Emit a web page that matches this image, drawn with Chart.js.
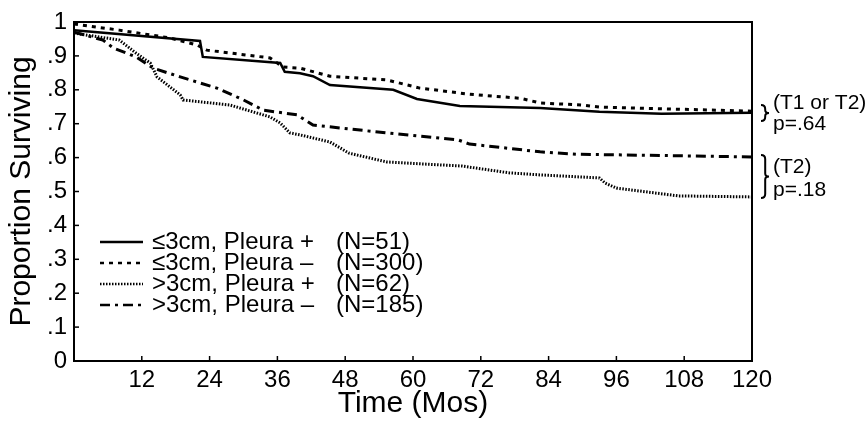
<html>
<head>
<meta charset="UTF-8" />
<script src="https://cdn.jsdelivr.net/npm/chart.js@4.4.0/dist/chart.umd.min.js"></script>
<style>
  body { margin: 0; background: #fff; }
  #wrap { position: relative; width: 865px; height: 425px; }
</style>
</head>
<body>
<div id="wrap"><canvas id="myChart" width="865" height="425"></canvas></div>
<script>
// data
const seriesLabels = ["\u22643cm, Pleura +", "\u22643cm, Pleura \u2013", ">3cm, Pleura +", ">3cm, Pleura \u2013"];
const seriesN = ["(N=51)", "(N=300)", "(N=62)", "(N=185)"];

const monthsSmallPos = [0, 22.3, 22.8, 36.5, 37.3, 40, 42.3, 45.3, 56.5, 60.7, 68.3, 82.5, 93, 104, 120];
const survSmallPos   = [0.976, 0.944, 0.897, 0.879, 0.853, 0.849, 0.84, 0.814, 0.80, 0.773, 0.752, 0.746, 0.735, 0.729, 0.732];

const monthsSmallNeg = [0, 8, 17, 21.8, 23.5, 34.7, 37, 40, 45.3, 55.4, 61.2, 70, 79, 82.5, 90, 93, 120];
const survSmallNeg   = [0.994, 0.976, 0.953, 0.932, 0.917, 0.894, 0.867, 0.864, 0.84, 0.829, 0.805, 0.787, 0.775, 0.761, 0.755, 0.749, 0.737];

const monthsLargePos = [0, 8, 11, 13.5, 14.7, 18.8, 19.3, 27.6, 34.7, 36.5, 38.2, 40, 45.3, 48.7, 55.4, 68.7, 77, 82.5, 93, 94, 96, 107, 120];
const survLargePos   = [0.967, 0.947, 0.908, 0.879, 0.838, 0.785, 0.77, 0.755, 0.72, 0.702, 0.673, 0.667, 0.646, 0.613, 0.587, 0.575, 0.555, 0.549, 0.54, 0.525, 0.51, 0.487, 0.484];

const monthsLargeNeg = [0, 5.1, 7, 11, 14, 18.8, 25.3, 30, 33.5, 39.5, 42.3, 55.8, 68, 70, 82.5, 89, 120];
const survLargeNeg   = [0.97, 0.947, 0.923, 0.897, 0.864, 0.838, 0.805, 0.77, 0.74, 0.726, 0.696, 0.672, 0.652, 0.64, 0.617, 0.61, 0.602];

const xTicks = [12, 24, 36, 48, 60, 72, 84, 96, 108, 120];
const yTicks = [0, 0.1, 0.2, 0.3, 0.4, 0.5, 0.6, 0.7, 0.8, 0.9, 1];

const FONT = "'Liberation Sans', Arial, Helvetica, sans-serif";
const styles = [
  { dash: [], width: 2.5 },
  { dash: [4, 5], width: 3 },
  { dash: [1.5, 1.5], width: 3 },
  { dash: [10, 5, 3, 5], width: 3 }
];

function pts(xs, ys) { return xs.map((x, i) => ({ x: x, y: ys[i] })); }
const allMonths = [monthsSmallPos, monthsSmallNeg, monthsLargePos, monthsLargeNeg];
const allSurv = [survSmallPos, survSmallNeg, survLargePos, survLargeNeg];

const extras = {
  id: 'extras',
  afterDatasetsDraw(chart) {
    const ctx = chart.ctx, a = chart.chartArea;
    const xs = chart.scales.x, ys = chart.scales.y;
    ctx.save();
    ctx.strokeStyle = '#000';
    ctx.lineWidth = 2;
    ctx.setLineDash([]);
    ctx.strokeRect(a.left, a.top, a.right - a.left, a.bottom - a.top);
    // inside tick marks
    ctx.lineWidth = 1.5;
    xTicks.forEach(t => {
      const px = xs.getPixelForValue(t);
      ctx.beginPath(); ctx.moveTo(px, a.bottom); ctx.lineTo(px, a.bottom - 5); ctx.stroke();
    });
    yTicks.forEach(t => {
      const py = ys.getPixelForValue(t);
      ctx.beginPath(); ctx.moveTo(a.left, py); ctx.lineTo(a.left + 5, py); ctx.stroke();
    });
    // legend
    ctx.font = '24px ' + FONT;
    ctx.fillStyle = '#000';
    ctx.textBaseline = 'middle';
    ctx.textAlign = 'left';
    seriesLabels.forEach((lab, i) => {
      const y = 242 + i * 21;
      ctx.lineWidth = 2.5;
      ctx.setLineDash(styles[i].dash);
      ctx.beginPath(); ctx.moveTo(100, y); ctx.lineTo(143, y); ctx.stroke();
      ctx.setLineDash([]);
      ctx.fillText(lab, 152, y);
      ctx.fillText(seriesN[i], 336, y);
    });
    // p-value annotations
    const r = a.right;
    ctx.font = '21px ' + FONT;
    ctx.fillText('(T1 or T2)', r + 21, 103);
    ctx.fillText('p=.64', r + 21, 124);
    ctx.fillText('(T2)', r + 21, 167);
    ctx.fillText('p=.18', r + 21, 190);
    ctx.lineWidth = 2;
    function brace(x, y1, y2) {
      const m = (y1 + y2) / 2, w = 6;
      ctx.beginPath();
      ctx.moveTo(x, y1);
      ctx.quadraticCurveTo(x + w * 0.7, y1, x + w * 0.7, y1 + 4);
      ctx.lineTo(x + w * 0.7, m - 3);
      ctx.quadraticCurveTo(x + w * 0.7, m, x + w + 2, m);
      ctx.quadraticCurveTo(x + w * 0.7, m, x + w * 0.7, m + 3);
      ctx.lineTo(x + w * 0.7, y2 - 4);
      ctx.quadraticCurveTo(x + w * 0.7, y2, x, y2);
      ctx.stroke();
    }
    brace(r + 9, 105, 121);
    brace(r + 9, 155, 198);
    ctx.restore();
  }
};

new Chart(document.getElementById('myChart').getContext('2d'), {
  type: 'line',
  data: {
    datasets: seriesLabels.map((lab, i) => ({
      label: lab,
      data: pts(allMonths[i], allSurv[i]),
      borderColor: '#000',
      borderWidth: styles[i].width,
      borderDash: styles[i].dash,
      pointRadius: 0,
      tension: 0,
      fill: false
    }))
  },
  options: {
    responsive: false,
    animation: false,
    layout: { padding: { top: 22, right: 113, left: 0, bottom: 0 } },
    plugins: { legend: { display: false }, tooltip: { enabled: false } },
    scales: {
      x: {
        type: 'linear', min: 0, max: 120,
        afterBuildTicks: s => { s.ticks = xTicks.map(v => ({ value: v })); },
        afterFit: s => { s.height = 64; },
        grid: { display: false, drawTicks: false },
        border: { display: true, color: '#000', width: 2 },
        ticks: { color: '#000', padding: 5, maxRotation: 0, autoSkip: false, font: { family: FONT, size: 24 } },
        title: { display: true, text: 'Time (Mos)', color: '#000', padding: { top: 0, bottom: 3 }, font: { family: FONT, size: 30 } }
      },
      y: {
        min: 0, max: 1,
        afterBuildTicks: s => { s.ticks = yTicks.map(v => ({ value: v })); },
        afterFit: s => { s.width = 74; },
        grid: { display: false, drawTicks: false },
        border: { display: true, color: '#000', width: 2 },
        ticks: {
          color: '#000', padding: 7, autoSkip: false, font: { family: FONT, size: 24 },
          callback: v => v === 0 ? '0' : (v === 1 ? '1' : '.' + Math.round(v * 10))
        },
        title: { display: true, text: 'Proportion Surviving', color: '#000', padding: { top: 4, bottom: 0 }, font: { family: FONT, size: 30 } }
      }
    }
  },
  plugins: [extras]
});
</script>
</body>
</html>
